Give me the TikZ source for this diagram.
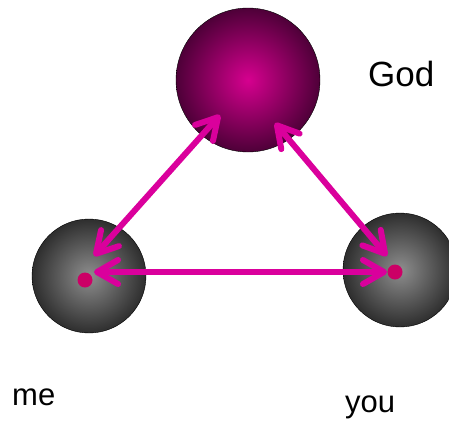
\documentclass[tikz,border=0pt]{standalone}
\usepackage{fontspec}
\setmainfont{Liberation Sans}
\usetikzlibrary{arrows.meta,positioning}
\definecolor{godin}{HTML}{D6008F}
\definecolor{godout}{HTML}{4E0038}
\definecolor{ballin}{HTML}{8E8E8E}
\definecolor{ballout}{HTML}{2E2E2E}
\definecolor{linkpink}{HTML}{DA009C}
\definecolor{dotpink}{HTML}{CC0066}
\tikzset{
  ball/.style={
    circle, draw=black, thin, minimum size=#1, inner sep=0pt,
    shading=radial, inner color=ballin, outer color=ballout
  },
  ball/.default=114pt,
  godball/.style={
    ball=144pt, inner color=godin, outer color=godout
  },
  heartdot/.style={
    circle, fill=dotpink, minimum size=15pt, inner sep=0pt
  },
  link/.style={
    {Straight Barb[length=21pt,width=24pt,round]}-{Straight Barb[length=21pt,width=24pt,round]},
    line width=6pt, line cap=round, color=linkpink
  },
  namelabel/.style={
    font=\fontsize{#1}{#1}\selectfont, anchor=base west, inner sep=0pt
  },
  namelabel/.default=31,
}
\begin{document}
\begin{tikzpicture}[x=1pt,y=-1pt]
  \useasboundingbox (0,0) rectangle (449,423);
  \clip (0,0) rectangle (449,423);

  % Spheres
  \node[godball] (god) at (248,80) {};
  \node[ball] (me) at (89,276) {};
  \node[ball] (you) at (400,270) {};

  % Dots
  \node[heartdot] (medot) at (85,280) {};
  \node[heartdot] (youdot) at (395,272) {};

  % Arrow ends
  \coordinate (godl) at (220,115);
  \coordinate (godr) at (275,123);
  \coordinate (metop) at (94,256);
  \coordinate (youtop) at (387,256);
  \coordinate (meend) at (94,272);
  \coordinate (youend) at (387,272);

  % Arrows
  \draw[link] (godl) -- (metop);
  \draw[link] (godr) -- (youtop);
  \draw[link] (meend) -- (youend);

  % Names
  \node[namelabel=35] (godname) at (368,86) {God};
  \node[namelabel] (mename) at (12,405) {me};
  \node[namelabel] (youname) at (345,412) {you};
\end{tikzpicture}
\end{document}
